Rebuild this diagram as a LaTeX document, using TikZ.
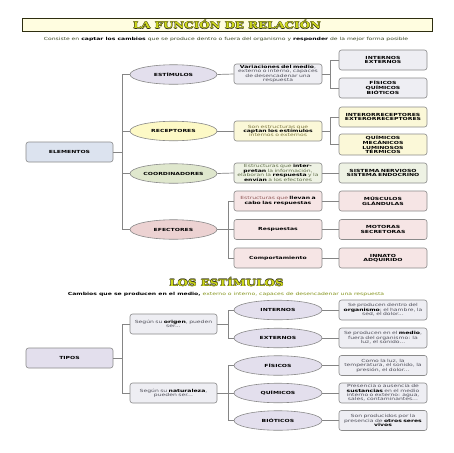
\documentclass[tikz,border=0pt]{standalone}
\usepackage{fontspec}
\setmainfont{DejaVu Sans}[FakeStretch=1.45]
\newfontfamily\ttlfont{DejaVu Serif}[FakeStretch=1.32]
\usetikzlibrary{shapes.geometric}
\definecolor{linkgray}{HTML}{858585}
\definecolor{boxline}{HTML}{8A8A8A}
\definecolor{ttlfill}{HTML}{CED81C}
\definecolor{ttlline}{HTML}{2E2E10}
\definecolor{ttlback}{HTML}{FFFDE0}
\definecolor{subtxt}{HTML}{3F4A25}
\definecolor{subolive}{HTML}{84941C}
\definecolor{blueel}{HTML}{DCE3EF}
\definecolor{lavel}{HTML}{E3DFED}
\definecolor{lavbox}{HTML}{EEEEF3}
\definecolor{lavtxt}{HTML}{50505A}
\definecolor{yelel}{HTML}{FDF9C6}
\definecolor{yelbox}{HTML}{FBF8D8}
\definecolor{yeltxt}{HTML}{7E7840}
\definecolor{greel}{HTML}{DFE7CD}
\definecolor{grebox}{HTML}{EEF2E4}
\definecolor{gretxt}{HTML}{5E6C48}
\definecolor{pinel}{HTML}{ECD2D2}
\definecolor{pinbox}{HTML}{F6E5E5}
\definecolor{pintxt}{HTML}{8E5656}
\newcommand{\outl}[1]{\leavevmode\rlap{\color{ttlline}\kern.4pt#1}\rlap{\color{ttlline}\kern-.4pt#1}\rlap{\color{ttlline}\raisebox{.4pt}{#1}}\rlap{\color{ttlline}\raisebox{-.4pt}{#1}}{\color{ttlfill}#1}}
\begin{document}
\begin{tikzpicture}[x=1pt,y=-1pt,
  every node/.style={font=\fontsize{4.2}{4.4}\selectfont, align=center},
  box/.style={draw=boxline, line width=.6pt, rounded corners=2.5pt, minimum width=88pt, minimum height=20pt, inner sep=0pt, text width=86pt},
  oval/.style={ellipse, draw=boxline, line width=.6pt, minimum width=87pt, minimum height=19.5pt, inner sep=0pt},
  link/.style={draw=linkgray, line width=.7pt},
  ttl/.style={font=\ttlfont\bfseries\fontsize{9}{9}\selectfont}]
\useasboundingbox[fill=white] (0,0) rectangle (453,453);
\node[ttl, draw=ttlline, line width=.7pt, fill=ttlback, minimum width=410pt, minimum height=13pt, inner sep=0pt] (ttl1) at (227,24.5) {\outl{LA FUNCIÓN DE RELACIÓN}};
\node[text=subtxt] (sub1) at (226,39.5) {Consiste en \textcolor{black}{\textbf{captar los cambios}} que se produce dentro o fuera del organismo y \textcolor{black}{\textbf{responder}} de la mejor forma posible};
\node[box, fill=blueel, minimum width=87pt] (elem) at (69.5,152) {\textbf{ELEMENTOS}};
\node[oval, fill=lavel] (estim) at (173.5,74.5) {\textbf{ESTÍMULOS}};
\node[oval, fill=yelel] (recep) at (173.5,131) {\textbf{RECEPTORES}};
\node[oval, fill=greel] (coord) at (173.5,173.5) {\textbf{COORDINADORES}};
\node[oval, fill=pinel] (efec) at (173.5,229.5) {\textbf{EFECTORES}};
\draw[link] (elem.east) -- ++(9,0) coordinate (j1);
\draw[link] (j1 |- estim.west) -- (j1 |- efec.west);
\foreach \n in {estim,recep,coord,efec} \draw[link] (j1 |- \n.west) -- (\n.west);
\node[box, fill=lavbox, text=lavtxt] (var) at (278,74) {\textcolor{black}{\textbf{Variaciones del medio}},\\externo o interno, capaces\\de desencadenar una\\respuesta};
\node[box, fill=lavbox] (intext) at (383,60) {\textbf{INTERNOS}\\\textbf{EXTERNOS}};
\node[box, fill=lavbox] (fisq) at (383,88) {\textbf{FÍSICOS}\\\textbf{QUÍMICOS}\\\textbf{BIÓTICOS}};
\draw[link] (estim.east) -- (var.west);
\draw[link] (var.east) -- ++(8,0) coordinate (j2);
\draw[link] (j2 |- intext.west) -- (j2 |- fisq.west);
\foreach \n in {intext,fisq} \draw[link] (j2 |- \n.west) -- (\n.west);
\node[box, fill=yelbox, text=yeltxt] (recd) at (278,131) {Son estructuras que\\\textcolor{black}{\textbf{captan los estímulos}}\\internos o externos};
\node[box, fill=yelbox] (inter) at (383,117) {\textbf{INTERORRECEPTORES}\\\textbf{EXTERORRECEPTORES}};
\node[box, fill=yelbox, minimum height=21pt] (quim) at (383,144.5) {\textbf{QUÍMICOS}\\\textbf{MECÁNICOS}\\\textbf{LUMINOSOS}\\\textbf{TÉRMICOS}};
\draw[link] (recep.east) -- (recd.west);
\draw[link] (recd.east) -- ++(8,0) coordinate (j3);
\draw[link] (j3 |- inter.west) -- (j3 |- quim.west);
\foreach \n in {inter,quim} \draw[link] (j3 |- \n.west) -- (\n.west);
\node[box, fill=grebox, text=gretxt] (coordd) at (278,173) {Estructuras que \textcolor{black}{\textbf{inter-}}\\\textcolor{black}{\textbf{pretan}} la información,\\elaboran la \textcolor{black}{\textbf{respuesta}} y la\\\textcolor{black}{\textbf{envían}} a los efectores};
\node[box, fill=grebox] (sist) at (383,173) {\textbf{SISTEMA NERVIOSO}\\\textbf{SISTEMA ENDOCRINO}};
\draw[link] (coord.east) -- (coordd.west);
\draw[link] (coordd.east) -- (sist.west);
\node[box, fill=pinbox, text=pintxt] (efd) at (278,201) {Estructuras que \textcolor{black}{\textbf{llevan a}}\\\textcolor{black}{\textbf{cabo las respuestas}}};
\node[box, fill=pinbox] (efr) at (278,229.5) {\textbf{Respuestas}};
\node[box, fill=pinbox] (efc) at (278,258) {\textbf{Comportamiento}};
\node[box, fill=pinbox] (musc) at (383,201) {\textbf{MÚSCULOS}\\\textbf{GLÁNDULAS}};
\node[box, fill=pinbox] (moto) at (383,229.5) {\textbf{MOTORAS}\\\textbf{SECRETORAS}};
\node[box, fill=pinbox] (inna) at (383,258) {\textbf{INNATO}\\\textbf{ADQUIRIDO}};
\draw[link] (efec.east) -- ++(11,0) coordinate (j4);
\draw[link] (j4 |- efd.west) -- (j4 |- efc.west);
\foreach \n in {efd,efr,efc} \draw[link] (j4 |- \n.west) -- (\n.west);
\draw[link] (efd.east) -- (musc.west);
\draw[link] (efr.east) -- (moto.west);
\draw[link] (efc.east) -- (inna.west);
\node[ttl] (ttl2) at (226.5,282) {\outl{LOS ESTÍMULOS}};
\node[text=subolive] (sub2) at (226,294) {\textcolor{black}{\textbf{Cambios que se producen en el medio,}} externo o interno, capaces de desencadenar una respuesta};
\node[box, fill=lavel, minimum width=87pt] (tipos) at (69.5,358) {\textbf{TIPOS}};
\node[box, fill=lavbox, minimum width=87pt, text=lavtxt] (orig) at (173.5,324) {Según su \textcolor{black}{\textbf{origen}}, pueden\\ser...};
\node[box, fill=lavbox, minimum width=87pt, text=lavtxt] (natu) at (173.5,393) {Según su \textcolor{black}{\textbf{naturaleza}},\\pueden ser...};
\draw[link] (tipos.east) -- ++(9,0) coordinate (j5);
\draw[link] (j5 |- orig.west) -- (j5 |- natu.west);
\foreach \n in {orig,natu} \draw[link] (j5 |- \n.west) -- (\n.west);
\node[oval, fill=lavel, minimum width=88pt] (inte) at (278,310) {\textbf{INTERNOS}};
\node[oval, fill=lavel, minimum width=88pt] (exte) at (278,338) {\textbf{EXTERNOS}};
\node[oval, fill=lavel, minimum width=88pt] (fisi) at (278,365.5) {\textbf{FÍSICOS}};
\node[oval, fill=lavel, minimum width=88pt] (quimi) at (278,393) {\textbf{QUÍMICOS}};
\node[oval, fill=lavel, minimum width=88pt] (biot) at (278,420.5) {\textbf{BIÓTICOS}};
\draw[link] (orig.east) -- ++(11,0) coordinate (j6);
\draw[link] (j6 |- inte.west) -- (j6 |- exte.west);
\foreach \n in {inte,exte} \draw[link] (j6 |- \n.west) -- (\n.west);
\draw[link] (natu.east) -- ++(11,0) coordinate (j7);
\draw[link] (j7 |- fisi.west) -- (j7 |- biot.west);
\foreach \n in {fisi,quimi,biot} \draw[link] (j7 |- \n.west) -- (\n.west);
\node[box, fill=lavbox, text=lavtxt] (dinte) at (383,310) {Se producen dentro del\\\textcolor{black}{\textbf{organismo}}; el hambre, la\\sed, el dolor...};
\node[box, fill=lavbox, text=lavtxt] (dexte) at (383,338) {Se producen en el \textcolor{black}{\textbf{medio}},\\fuera del organismo: la\\luz, el sonido...};
\node[box, fill=lavbox, text=lavtxt] (dfisi) at (383,365.5) {Como la luz, la\\temperatura, el sonido, la\\presión, el dolor...};
\node[box, fill=lavbox, text=lavtxt] (dquimi) at (383,393) {Presencia o ausencia de\\\textcolor{black}{\textbf{sustancias}} en el medio\\interno o externo: agua,\\sales, contaminantes...};
\node[box, fill=lavbox, text=lavtxt] (dbiot) at (383,420.5) {Son producidos por la\\presencia de \textcolor{black}{\textbf{otros seres}}\\\textcolor{black}{\textbf{vivos}}};
\foreach \a/\b in {inte/dinte,exte/dexte,fisi/dfisi,quimi/dquimi,biot/dbiot} \draw[link] (\a.east) -- (\b.west);
\end{tikzpicture}
\end{document}
